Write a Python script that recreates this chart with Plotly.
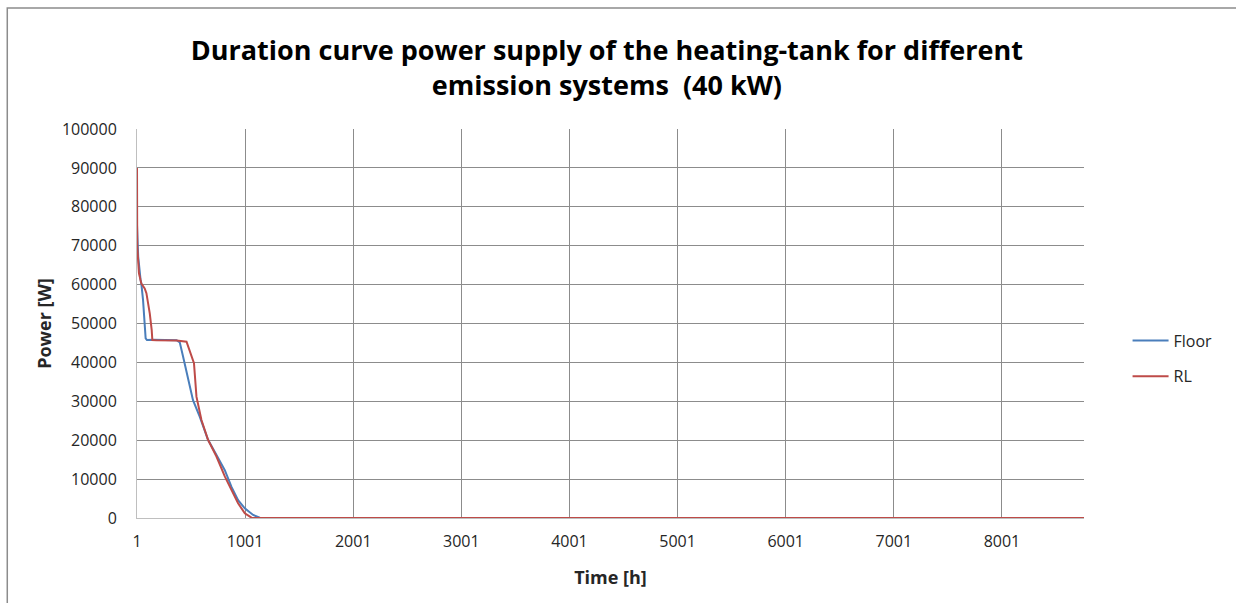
import plotly.graph_objects as go

# Duration curves: hour of the year (sorted) vs. power delivered to the heating tank
floor_hours = [1, 12, 34, 41, 57, 72, 81, 93, 151, 367, 397, 427, 473, 519, 582, 658,
               736, 813, 875, 936, 998, 1075, 1137, 1200, 8760]
floor_power = [75300, 67200, 61200, 60300, 56000, 50900, 46200, 45750, 45800, 45700,
               45100, 41500, 35500, 30300, 26000, 20100, 16200, 12300, 8000, 4600,
               2500, 770, 80, 0, 0]

rl_hours = [1, 3, 12, 19, 41, 72, 88, 119, 137, 143, 182, 367, 459, 528, 551, 597,
            658, 736, 813, 875, 936, 998, 1060, 1100, 8760]
rl_power = [90000, 70000, 66000, 62900, 60300, 59000, 57800, 52600, 48300, 45750,
            45700, 45600, 45300, 39800, 31200, 25200, 20100, 15800, 10700, 7200,
            3800, 1200, 80, 0, 0]

x_tick_vals = [1, 1001, 2001, 3001, 4001, 5001, 6001, 7001, 8001]
y_tick_vals = list(range(0, 100001, 10000))

FONT = "Open Sans"
TEXT = "#262626"
GRID = "#8c8c8c"

fig = go.Figure()
fig.add_trace(go.Scatter(x=floor_hours, y=floor_power, mode="lines", name="Floor",
                         legendgroup="floor",
                         line=dict(color="#4a7ebb", width=2)))
fig.add_trace(go.Scatter(x=rl_hours, y=rl_power, mode="lines", name="RL",
                         legendgroup="rl",
                         line=dict(color="#be4b48", width=2)))

fig.update_layout(
    width=1236, height=603,
    margin=dict(l=137, r=152, t=129, b=85),
    paper_bgcolor="white", plot_bgcolor="white",
    font=dict(family=FONT, color=TEXT, size=16),
    title=dict(
        text="<b>Duration curve power supply of the heating-tank for different<br>emission systems  (40 kW)</b>",
        x=0.491, xanchor="center", y=0.9, yanchor="top",
        font=dict(family=FONT, size=27, color="#000000"),
    ),
    showlegend=True,
    legend=dict(x=1.046, y=0.41, xanchor="left", yanchor="middle",
                font=dict(family=FONT, size=16, color=TEXT),
                bgcolor="rgba(0,0,0,0)", itemwidth=36,
                traceorder="grouped", tracegroupgap=12),
    xaxis=dict(
        range=[1, 8760], tickmode="array", tickvals=x_tick_vals,
        ticktext=[str(v) for v in x_tick_vals],
        showgrid=True, gridcolor=GRID, gridwidth=1,
        showline=True, linecolor="#bfbfbf", linewidth=1,
        zeroline=False, ticks="", ticklen=0, ticklabelstandoff=9,
        title=dict(text="<b>Time [h]</b>", font=dict(family=FONT, size=18, color=TEXT),
                   standoff=20),
        tickfont=dict(size=16, color=TEXT),
    ),
    yaxis=dict(
        range=[0, 100000], tickmode="array", tickvals=y_tick_vals,
        ticktext=[str(v) for v in y_tick_vals],
        showgrid=True, gridcolor=GRID, gridwidth=1,
        showline=True, linecolor="#bfbfbf", linewidth=1,
        zeroline=False, ticks="", ticklen=0, ticklabelstandoff=16,
        title=dict(text="<b>Power [W]</b>", font=dict(family=FONT, size=18, color=TEXT),
                   standoff=5),
        tickfont=dict(size=16, color=TEXT),
    ),
)

# Outer chart frame (left and top edges visible)
fig.add_shape(type="rect", xref="paper", yref="paper",
              x0=-130 / 949, x1=1.5, y0=-0.5, y1=(603 - 8 - 85) / 389,
              line=dict(color="#8c8c8c", width=1.5), fillcolor="rgba(0,0,0,0)",
              layer="below")

fig.write_html("out.html")
